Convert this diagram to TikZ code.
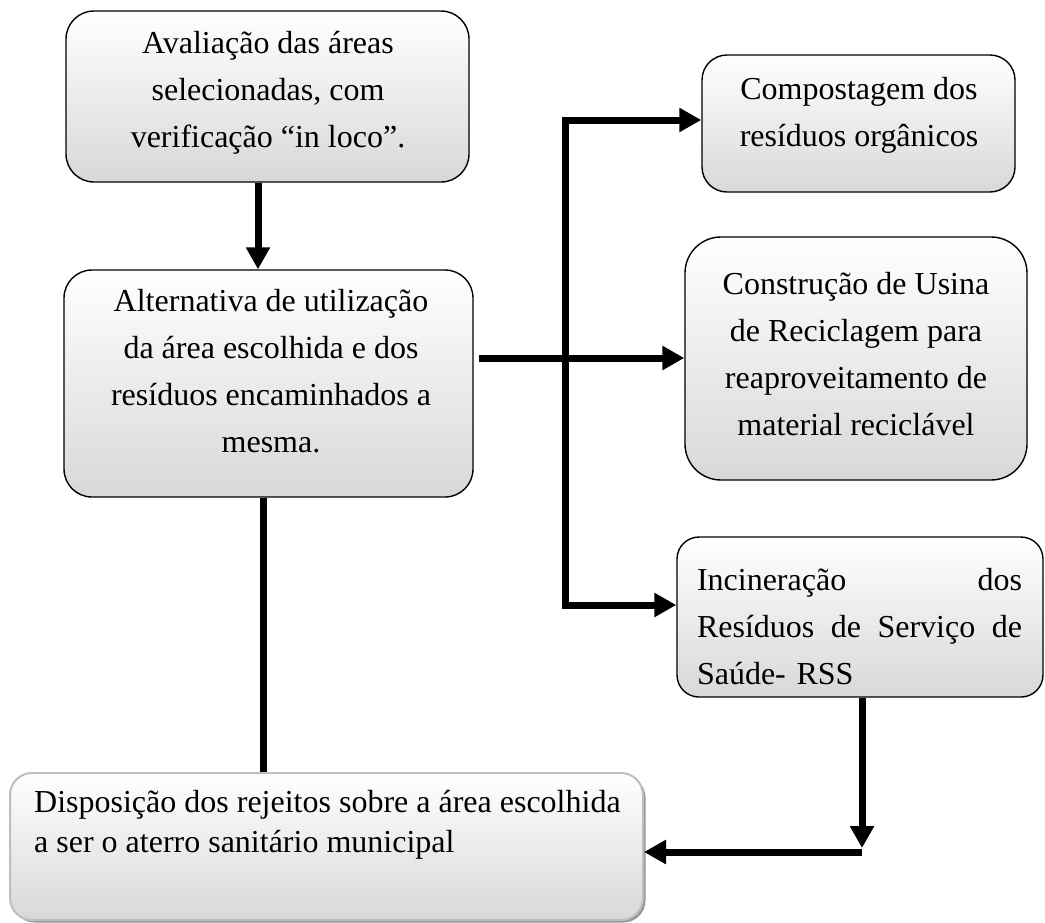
\documentclass[tikz,border=0pt]{standalone}
\usepackage{fontspec}
\setmainfont{Liberation Serif}
\usetikzlibrary{arrows.meta,calc,shadows}
\definecolor{shadegray}{RGB}{216,216,216}
\definecolor{lightborder}{RGB}{190,190,190}
\definecolor{shadowgray}{RGB}{150,150,150}
\begin{document}
\begin{tikzpicture}[x=1pt,y=-1pt,
  box/.style={draw=black, line width=1.4pt, rounded corners=28pt,
    top color=white, bottom color=shadegray, inner sep=0pt},
  lastbox/.style={draw=lightborder, line width=2pt, rounded corners=22pt,
    top color=white, bottom color=shadegray, inner sep=0pt,
    drop shadow={shadow xshift=2.5pt, shadow yshift=-2.5pt, fill=shadowgray, opacity=1}},
  txt/.style={inner sep=0pt, align=center, font=\fontsize{32}{47}\selectfont},
  conn/.style={line width=7pt, line join=miter},
  arr/.style={conn, -{Triangle[width=23pt,length=22pt]}}
]
\useasboundingbox (0,0) rectangle (1045,922);

% boxes
\node[box, minimum width=403pt, minimum height=171pt] (b1) at (267.5,96.5) {};
\node[box, minimum width=409pt, minimum height=227pt] (b2) at (268.5,383.5) {};
\node[box, rounded corners=25pt, minimum width=313pt, minimum height=137pt] (b3) at (858.5,123.5) {};
\node[box, rounded corners=36pt, minimum width=342pt, minimum height=243pt] (b4) at (856,358.5) {};
\node[box, rounded corners=22pt, minimum width=366pt, minimum height=160pt] (b5) at (860,617) {};
\node[lastbox, minimum width=633pt, minimum height=147pt] (b6) at (326.5,846.5) {};

% texts
\node[txt] (t1) at (268,93) {Avaliação das áreas\\selecionadas, com\\verificação “in loco”.};
\node[txt] (t2) at (271,371) {Alternativa de utilização\\da área escolhida e dos\\resíduos encaminhados a\\mesma.};
\node[txt] (t3) at (859,115) {Compostagem dos\\resíduos orgânicos};
\node[txt] (t4) at (856,354) {Construção de Usina\\de Reciclagem para\\reaproveitamento de\\material reciclável};
\node[txt, text width=325pt, align=left] (t5) at (859.5,627)
  {Incineração\hfill dos\\Resíduos\hfill de\hfill Serviço\hfill de\\Saúde- RSS};
\node[txt, anchor=west, align=left, font=\fontsize{32}{40}\selectfont] (t6) at (34,825)
  {Disposição dos rejeitos sobre a área escolhida\\a ser o aterro sanitário municipal};

% helper coordinates
\coordinate (c1) at (258,0);
\coordinate (c2) at (263,0);
\coordinate (h1) at (0,358);
\coordinate (br) at (565,0);
\coordinate (y3) at (0,120);
\coordinate (y5) at (0,605);
\coordinate (c5) at (862,0);
\coordinate (y6) at (0,852);
\coordinate (d5) at (862,848);

% connectors
\draw[arr] (c1 |- b1.south) -- (c1 |- b2.north);
\draw[conn] (c2 |- b2.south) -- (c2 |- b6.north);
\draw[arr] ($(b2.east |- h1)+(5,0)$) -- (b4.west |- h1);
\draw[arr] (br |- y5) -- (br |- y3) -- (b3.west |- y3);
\draw[arr] (br |- y3) -- (br |- y5) -- (b5.west |- y5);
\draw[arr] (c5 |- b5.south) -- (d5);
\draw[arr] (c5 |- y6) -- (b6.east |- y6);
\end{tikzpicture}
\end{document}
